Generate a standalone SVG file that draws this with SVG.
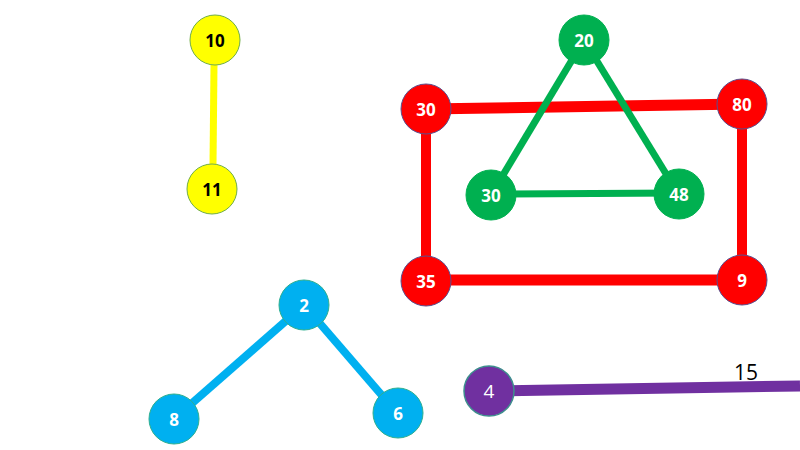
<svg xmlns="http://www.w3.org/2000/svg" width="800" height="450" viewBox="0 0 800 450">
<style>
.n text{font-family:"Open Sans","Noto Sans","Liberation Sans",sans-serif;font-size:17px;font-weight:bold;text-anchor:middle;dominant-baseline:central;fill:#fff}
.y circle{fill:#FFFF00;stroke:#70AD47;stroke-width:1}
.y text{fill:#000}
.r circle{fill:#FF0000;stroke:#5B4E8C;stroke-width:1}
.g circle{fill:#00B050;stroke:#00B050;stroke-width:1}
.b circle{fill:#00B0F0;stroke:#2EAF8F;stroke-width:1}
.p circle{fill:#7030A0;stroke:#3E8E8E;stroke-width:1.5}
.p text{font-weight:normal;font-size:19px}
line{stroke-linecap:butt}
</style>
<rect width="800" height="450" fill="#fff"/>
<g id="connectors">
<line x1="214" y1="65" x2="213" y2="164" stroke="#FFFF00" stroke-width="7"/>
<line x1="426" y1="109" x2="742" y2="104" stroke="#FF0000" stroke-width="11"/>
<line x1="426" y1="109" x2="426" y2="282" stroke="#FF0000" stroke-width="10"/>
<line x1="742" y1="104" x2="742" y2="280" stroke="#FF0000" stroke-width="10"/>
<line x1="426" y1="280" x2="742" y2="280" stroke="#FF0000" stroke-width="11"/>
<line x1="584" y1="40" x2="491" y2="195" stroke="#00B050" stroke-width="7"/>
<line x1="584" y1="40" x2="679" y2="195" stroke="#00B050" stroke-width="7"/>
<line x1="491" y1="194" x2="679" y2="193" stroke="#00B050" stroke-width="7"/>
<line x1="304" y1="305" x2="174" y2="419" stroke="#00B0F0" stroke-width="8"/>
<line x1="304" y1="305" x2="398" y2="414" stroke="#00B0F0" stroke-width="8"/>
<line x1="489" y1="391" x2="800" y2="386" stroke="#7030A0" stroke-width="11"/>
<text x="746" y="380" font-family="'Open Sans','Noto Sans','Liberation Sans',sans-serif" font-size="21" text-anchor="middle" fill="#000">15</text>
</g>
<g id="n10" class="n y"><circle cx="215" cy="40" r="25"/><text x="215" y="40">10</text></g>
<g id="n11" class="n y"><circle cx="212" cy="189" r="25"/><text x="212" y="189">11</text></g>
<g id="n30r" class="n r"><circle cx="426" cy="109" r="25"/><text x="426" y="109">30</text></g>
<g id="n80" class="n r"><circle cx="742" cy="104" r="25"/><text x="742" y="104">80</text></g>
<g id="n35" class="n r"><circle cx="426" cy="281" r="25"/><text x="426" y="281">35</text></g>
<g id="n9" class="n r"><circle cx="742" cy="280" r="25"/><text x="742" y="280">9</text></g>
<g id="n20" class="n g"><circle cx="584" cy="40" r="25"/><text x="584" y="40">20</text></g>
<g id="n30g" class="n g"><circle cx="491" cy="195" r="25"/><text x="491" y="195">30</text></g>
<g id="n48" class="n g"><circle cx="679" cy="194" r="25"/><text x="679" y="194">48</text></g>
<g id="n2" class="n b"><circle cx="304" cy="305" r="25"/><text x="304" y="305">2</text></g>
<g id="n8" class="n b"><circle cx="174" cy="419" r="25"/><text x="174" y="419">8</text></g>
<g id="n6" class="n b"><circle cx="398" cy="413" r="25"/><text x="398" y="413">6</text></g>
<g id="n4" class="n p"><circle cx="489" cy="391" r="25"/><text x="489" y="391">4</text></g>
</svg>
